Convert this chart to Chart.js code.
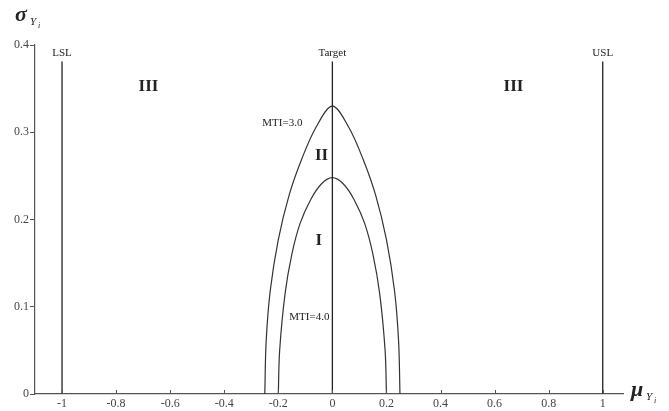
<!DOCTYPE html>
<html>
<head>
<meta charset="utf-8">
<script src="https://cdn.jsdelivr.net/npm/chart.js@4"></script>
<style>
  html, body { margin: 0; padding: 0; background: #fff; }
  #wrap { width: 669px; height: 411px; }
</style>
</head>
<body>
<div id="wrap"><canvas id="graph1"></canvas></div>
<script>
// spec lines
var specNames = ["LSL", "Target", "USL"];
var specX = [-1, 0, 1];
var specTop = 0.381;

// MTI = 3.0 curve
var mti3X = [-0.25, -0.245, -0.23, -0.2, -0.16, -0.115, -0.06, 0, 0.06, 0.115, 0.16, 0.2, 0.23, 0.245, 0.25];
var mti3Y = [0, 0.06, 0.118, 0.177, 0.228, 0.268, 0.306, 0.33, 0.306, 0.268, 0.228, 0.177, 0.118, 0.06, 0];

// MTI = 4.0 curve
var mti4X = [-0.2, -0.195, -0.175, -0.15, -0.12, -0.08, -0.04, 0, 0.04, 0.08, 0.12, 0.15, 0.175, 0.195, 0.2];
var mti4Y = [0, 0.05, 0.115, 0.16, 0.195, 0.223, 0.241, 0.248, 0.241, 0.223, 0.195, 0.16, 0.115, 0.05, 0];

var xTicks = [-1, -0.8, -0.6, -0.4, -0.2, 0, 0.2, 0.4, 0.6, 0.8, 1];
var yTicks = [0, 0.1, 0.2, 0.3, 0.4];

// text labels: [text, x, y, size, bold]
var notes = [
  ["III", -0.68, 0.352, 17, true],
  ["III", 0.67, 0.352, 17, true],
  ["II", -0.04, 0.273, 17, true],
  ["I", -0.05, 0.176, 17, true],
  ["MTI=3.0", -0.185, 0.31, 11, false],
  ["MTI=4.0", -0.085, 0.088, 11, false]
];

function pts(xs, ys) {
  return xs.map(function (x, i) { return { x: x, y: ys[i] }; });
}

var datasets = specX.map(function (x, i) {
  return {
    label: specNames[i],
    data: [{ x: x, y: 0 }, { x: x, y: specTop }],
    borderColor: "#222",
    borderWidth: 1.3,
    pointRadius: 0,
    fill: false
  };
});
datasets.push({
  label: "MTI=3.0",
  data: pts(mti3X, mti3Y),
  borderColor: "#333",
  borderWidth: 1.2,
  pointRadius: 0,
  tension: 0.35,
  fill: false
});
datasets.push({
  label: "MTI=4.0",
  data: pts(mti4X, mti4Y),
  borderColor: "#333",
  borderWidth: 1.2,
  pointRadius: 0,
  tension: 0.35,
  fill: false
});

var serif = "'Liberation Serif', 'DejaVu Serif', serif";

var textPlugin = {
  id: "texts",
  afterDatasetsDraw: function (chart) {
    var ctx = chart.ctx;
    var xs = chart.scales.x, ys = chart.scales.y;
    ctx.save();
    ctx.fillStyle = "#222";
    ctx.textAlign = "center";
    ctx.textBaseline = "middle";
    // spec labels
    ctx.font = "11px " + serif;
    specX.forEach(function (x, i) {
      ctx.fillText(specNames[i], xs.getPixelForValue(x), ys.getPixelForValue(specTop) - 8);
    });
    notes.forEach(function (n) {
      ctx.font = (n[4] ? "bold " : "") + n[3] + "px " + serif;
      ctx.fillText(n[0], xs.getPixelForValue(n[1]), ys.getPixelForValue(n[2]));
    });
    // x tick marks pointing up
    ctx.strokeStyle = "#555";
    ctx.lineWidth = 1;
    xTicks.forEach(function (t) {
      var px = Math.round(xs.getPixelForValue(t)) + 0.5;
      ctx.beginPath();
      ctx.moveTo(px, ys.bottom);
      ctx.lineTo(px, ys.bottom - 4);
      ctx.stroke();
    });
    // axis titles
    ctx.font = "italic bold 22px " + serif;
    ctx.textAlign = "left";
    ctx.fillText("\u03c3", 15, 15);
    ctx.font = "italic 11px " + serif;
    ctx.fillText("Y", 30, 22);
    ctx.font = "italic 8px " + serif;
    ctx.fillText("i", 38, 26);
    ctx.font = "italic bold 22px " + serif;
    ctx.fillText("\u03bc", 631, 390);
    ctx.font = "italic 11px " + serif;
    ctx.fillText("Y", 646, 397);
    ctx.font = "italic 8px " + serif;
    ctx.fillText("i", 654, 401);
    ctx.restore();
  }
};

var graph1 = new Chart("graph1", {
  type: "line",
  data: { datasets: datasets },
  options: {
    responsive: true,
    maintainAspectRatio: false,
    animation: false,
    layout: { padding: { top: 45, right: 46, left: 0, bottom: 0 } },
    plugins: { legend: { display: false }, tooltip: { enabled: false } },
    scales: {
      x: {
        type: "linear",
        min: -1.1,
        max: 1.075,
        afterBuildTicks: function (s) { s.ticks = xTicks.map(function (v) { return { value: v }; }); },
        afterFit: function (s) { s.height = 17; },
        grid: { display: true, drawOnChartArea: false, drawTicks: false },
        border: { display: true, color: "#555", width: 1.2 },
        ticks: {
          padding: 3,
          maxRotation: 0,
          color: "#444",
          font: { family: serif, size: 12 },
          callback: function (v) { return String(v); }
        }
      },
      y: {
        type: "linear",
        min: 0,
        max: 0.4,
        afterBuildTicks: function (s) { s.ticks = yTicks.map(function (v) { return { value: v }; }); },
        afterFit: function (s) { s.width = 35; },
        grid: { display: true, drawOnChartArea: false, drawTicks: true, tickLength: 5, color: "#555" },
        border: { display: true, color: "#555", width: 1.2 },
        ticks: {
          padding: 1,
          color: "#444",
          font: { family: serif, size: 12 },
          callback: function (v) { return String(v); }
        }
      }
    }
  },
  plugins: [textPlugin]
});
</script>
</body>
</html>
